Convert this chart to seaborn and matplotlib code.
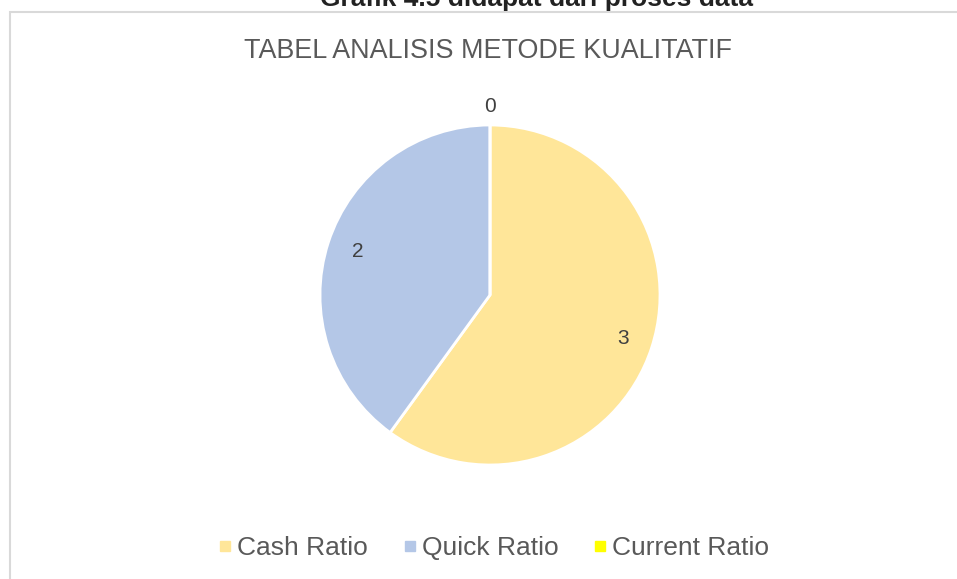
import matplotlib.pyplot as plt
import seaborn as sns
from matplotlib.patches import Rectangle
from matplotlib.lines import Line2D

# data
kategori = ['Cash Ratio', 'Quick Ratio', 'Current Ratio']
nilai = [3, 2, 0]
warna = ['#FFE699', '#B4C7E7', '#FFFF00']

sns.set_theme(style='white')
plt.rcParams['font.family'] = ['Liberation Sans', 'DejaVu Sans']

fig = plt.figure(figsize=(9.57, 5.79), dpi=100)

# bingkai chart
fig.patches.append(Rectangle((9.5 / 957, -0.1), 1.1, 1 - 11.5 / 579 + 0.1, transform=fig.transFigure,
                             fill=False, edgecolor='#D9D9D9', linewidth=1.5))

# judul gambar (terpotong di atas)
fig.text(537 / 957, 1 - 6 / 579, 'Grafik 4.5 didapat dari proses data', ha='center', va='baseline',
         fontsize=19, fontweight='bold', color='#222222')

fig.text(488.5 / 957, 1 - 58 / 579, 'TABEL ANALISIS METODE KUALITATIF', ha='center', va='baseline',
         fontsize=19.4, color='#595959')

ax = fig.add_axes([320 / 957, 114 / 579, 340 / 957, 340 / 579])
total = sum(nilai)
wedges, texts, autotexts = ax.pie(nilai, colors=warna, startangle=90, counterclock=False,
                                  autopct=lambda p: '%d' % round(p * total / 100),
                                  pctdistance=0.82,
                                  wedgeprops=dict(edgecolor='white', linewidth=2),
                                  textprops=dict(fontsize=15, color='#404040'))
for v, t in zip(nilai, autotexts):
    if v == 0:
        t.set_position((0, 1.11))
ax.set_xlim(-1, 1)
ax.set_ylim(-1, 1)

handles = [Line2D([], [], marker='s', linestyle='', markersize=7.2, markerfacecolor=c, markeredgecolor=c)
           for c in warna]
fig.legend(handles, kategori, loc='center', bbox_to_anchor=(494.5 / 957, 1 - 548 / 579), ncol=3,
           frameon=False, fontsize=19, labelcolor='#595959', handletextpad=0.25, columnspacing=1.4,
           handlelength=0.4)

plt.savefig('out.png', dpi=100)
